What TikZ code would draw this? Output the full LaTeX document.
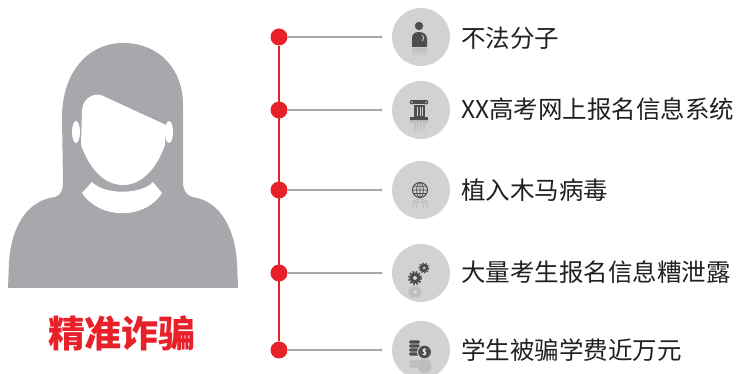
\documentclass[tikz,border=0pt]{standalone}
\usepackage{fontspec}
\newfontfamily\cjk{Noto Sans CJK SC}

\definecolor{fraudred}{HTML}{E8202A}
\definecolor{figgray}{HTML}{A7A8AB}
\definecolor{iconbg}{HTML}{D1D2D4}
\definecolor{icondark}{HTML}{4D4D4F}
\definecolor{iconfaint}{HTML}{BCBDBF}
\definecolor{textdark}{HTML}{231F20}

\begin{document}
\begin{tikzpicture}[x=1pt,y=-1pt,
    reddot/.style={circle,fill=fraudred,inner sep=0pt,minimum size=17pt},
    iconbox/.style={circle,fill=iconbg,inner sep=0pt,minimum size=58pt},
    linkline/.style={draw=figgray,line width=2pt},
    trunk/.style={draw=fraudred,line width=1.5pt},
    itemtext/.style={anchor=west,inner sep=0pt,text=textdark,font=\cjk\fontsize{24.5}{24.5}\selectfont},
    glow/.style={top color=iconfaint,bottom color=iconbg}]
  \useasboundingbox (0,0) rectangle (740,374);

  % Figure: hair and shoulders
  \fill[figgray] (8,288) -- (9,262) .. controls (12,222) and (30,200) .. (55,197)
    .. controls (61,195) and (63,190) .. (63,182) -- (62,118)
    .. controls (62,70) and (90,43) .. (123,43)
    .. controls (160,43) and (183,70) .. (183,105) -- (183,182)
    .. controls (183,190) and (186,195) .. (192,197)
    .. controls (216,200) and (234,222) .. (237,262) -- (238,288) -- cycle;
  % face, ears, collar
  \fill[white] (82,112) .. controls (82,100) and (91,93) .. (101,95) -- (166,125)
    -- (165,145) .. controls (156,170) and (141,185) .. (123,185)
    .. controls (105,185) and (90,170) .. (81,145) -- cycle;
  \fill[white] (76,132) ellipse (4 and 11);
  \fill[white] (169,132) ellipse (4 and 11);
  \fill[white] (92,182) .. controls (104,195) and (141,195) .. (153,182) -- (162,193)
    .. controls (145,220) and (100,220) .. (82,193) -- cycle;
  \node[font=\cjk\bfseries\fontsize{37}{37}\selectfont,text=fraudred] (name) at (122,333) {精准诈骗};

  % Row 1
  \node[reddot] (d1) at (279,37) {};
  \coordinate (e1) at (381,37);
  \node[iconbox] (c1) at (421,37) {};
  \node[itemtext] (t1) at (461,38) {不法分子};
  \shade[glow,rounded corners=1pt] (412,48) rectangle (427,56);
  \fill[icondark] (419,26) circle (4.2);
  \fill[icondark] (412,47) -- (412,38) .. controls (412,34) and (415,32) .. (419,32)
    .. controls (424,32) and (427,35) .. (427,39) -- (427,47) -- cycle;
  \draw[white,line width=0.5pt] (422,35) -- (424,38) -- (422,41);

  % Row 2
  \node[reddot] (d2) at (279,110) {};
  \coordinate (e2) at (381,110);
  \node[iconbox] (c2) at (421,110) {};
  \node[itemtext] (t2) at (461,109) {XX高考网上报名信息系统};
  \shade[glow] (410,121) rectangle (428,124);
  \foreach \x in {414.5,417.5,420.5,423.5}
    \shade[glow] (\x,124) rectangle +(1.6,9);
  \fill[icondark] (412,100) rectangle (426,104.5);
  \fill[icondark] (412,102.2) circle (2.3) (426,102.2) circle (2.3);
  \fill[iconbg] (412,102.2) circle (0.9) (426,102.2) circle (0.9);
  \fill[icondark] (414,105.5) rectangle (425,117);
  \foreach \x in {416.8,419.5,422.2}
    \fill[iconbg] (\x,107) rectangle +(0.9,9);
  \fill[icondark] (410,117) rectangle (428,120.5);

  % Row 3
  \node[reddot] (d3) at (279,190) {};
  \coordinate (e3) at (381,190);
  \node[iconbox] (c3) at (421,190) {};
  \node[itemtext] (t3) at (461,190) {植入木马病毒};
  \begin{scope}[shift={(420,190)}]
    \begin{scope}
      \clip (-9,9) rectangle (9,19);
      \draw[iconfaint,line width=0.8pt] (0,16) circle (7.5) (0,16) ellipse (3.4 and 7.5)
        (-6.5,12.4) -- (6.5,12.4);
    \end{scope}
    \draw[icondark,line width=1pt] (0,0) circle (7.5);
    \draw[icondark,line width=0.7pt] (0,0) ellipse (3.4 and 7.5)
      (0,-7.5) -- (0,7.5) (-7.5,0) -- (7.5,0) (-6.5,-3.6) -- (6.5,-3.6) (-6.5,3.6) -- (6.5,3.6);
  \end{scope}

  % Row 4
  \node[reddot] (d4) at (279,273) {};
  \coordinate (e4) at (381,273);
  \node[iconbox] (c4) at (421,273) {};
  \node[itemtext] (t4) at (461,272) {大量考生报名信息糟泄露};
  \begin{scope}
    \clip (405,286) rectangle (426,298);
    \draw[iconfaint,line width=2pt,dash pattern=on 1.6pt off 1.6pt] (415,292) circle (6);
    \fill[iconfaint] (415,292) circle (5.5);
    \fill[iconbg] (415,292) circle (2);
  \end{scope}
  \draw[icondark,line width=2pt,dash pattern=on 1.6pt off 1.6pt] (415,278) circle (6);
  \fill[icondark] (415,278) circle (5.5);
  \fill[iconbg] (415,278) circle (2);
  \draw[icondark,line width=1.8pt,dash pattern=on 1.4pt off 1.4pt] (424,268) circle (4.6);
  \fill[icondark] (424,268) circle (4.2);
  \fill[iconbg] (424,268) circle (1.5);

  % Row 5
  \node[reddot] (d5) at (279,350) {};
  \coordinate (e5) at (381,350);
  \node[iconbox] (c5) at (421,350) {};
  \node[itemtext] (t5) at (461,350) {学生被骗学费近万元};
  \begin{scope}
    \clip (405,360) rectangle (432,374);
    \foreach \y in {362,366}
      \fill[iconfaint,rounded corners=1.5pt] (409,\y-1.6) rectangle (420,\y+1.6);
    \fill[iconfaint] (424.5,366) circle (7);
  \end{scope}
  \foreach \y in {342,346,350,354}
    \fill[icondark,rounded corners=1.5pt] (409,\y-1.6) rectangle (420,\y+1.6);
  \filldraw[fill=icondark,draw=iconbg,line width=1pt] (424.5,352) circle (7);
  \node[text=white,font=\sffamily\bfseries\fontsize{9}{9}\selectfont,inner sep=0pt] (usd) at (424.5,352) {\$};

  % Connectors
  \draw[trunk] (d1) -- (d5);
  \foreach \i in {1,...,5} {
    \draw[linkline] (d\i) -- (e\i);
    \fill[figgray] (e\i) circle (1.6);
  }
\end{tikzpicture}
\end{document}
